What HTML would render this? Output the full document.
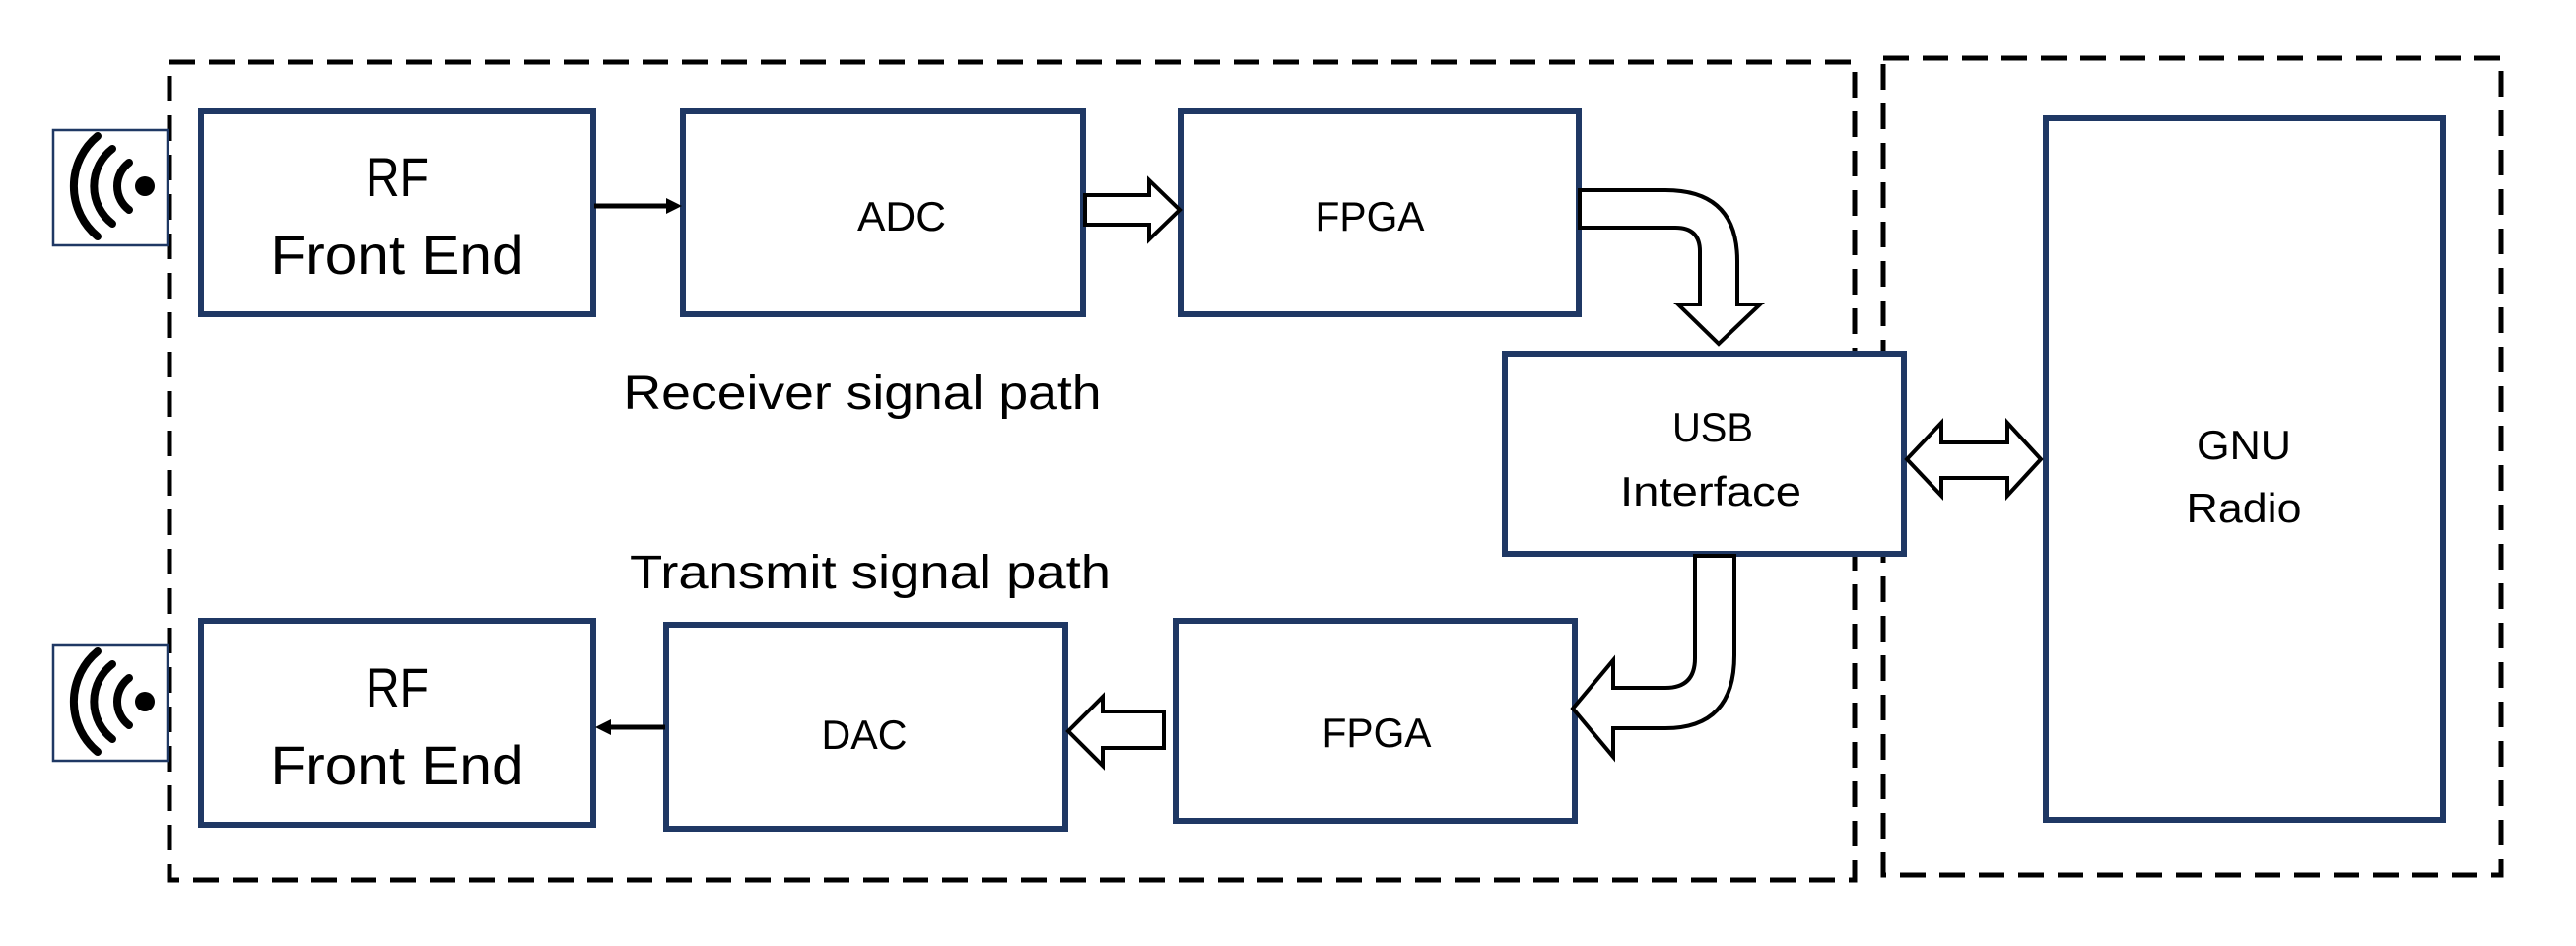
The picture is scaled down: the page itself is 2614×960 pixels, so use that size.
<!DOCTYPE html>
<html><head><meta charset="utf-8"><style>
html,body{margin:0;padding:0;background:#fff;}
svg{display:block}
text{font-family:"Liberation Sans Narrow","Liberation Sans",sans-serif;fill:#000}
</style></head><body>
<svg width="2614" height="960" viewBox="0 0 2614 960" xmlns="http://www.w3.org/2000/svg">
<defs>
<g id="ant">
<rect x="0" y="0" width="116" height="117" fill="#fff" stroke="#1f3864" stroke-width="2.5"/>
<circle cx="93" cy="57" r="10" fill="#000"/>
<path d="M77 33 A30 30 0 0 0 77 81" fill="none" stroke="#000" stroke-width="8" stroke-linecap="round"/>
<path d="M60 19 A48 48 0 0 0 60 95" fill="none" stroke="#000" stroke-width="8" stroke-linecap="round"/>
<path d="M45 6 A66 66 0 0 0 45 108" fill="none" stroke="#000" stroke-width="8" stroke-linecap="round"/>
</g>
</defs>
<g fill="none" stroke="#000" stroke-width="5" stroke-dasharray="26 14">
<rect x="172" y="63" width="1710" height="830"/>
<rect x="1911" y="59" width="627" height="829"/>
</g>
<use href="#ant" x="54" y="132"/>
<use href="#ant" x="54" y="655"/>
<g fill="#fff" stroke="#1f3864" stroke-width="6">
<rect x="204" y="113" width="398" height="206"/>
<rect x="693" y="113" width="406" height="206"/>
<rect x="1198" y="113" width="404" height="206"/>
<rect x="1527" y="359" width="405" height="203"/>
<rect x="2076" y="120" width="403" height="712"/>
<rect x="204" y="630" width="398" height="207"/>
<rect x="676" y="634" width="405" height="207"/>
<rect x="1193" y="630" width="405" height="203"/>
</g>
<line x1="603" y1="209" x2="680" y2="209" stroke="#000" stroke-width="5"/>
<polygon points="692,209 676,201 676,217" fill="#000"/>
<line x1="675" y1="738" x2="616" y2="738" stroke="#000" stroke-width="5"/>
<polygon points="604,738 620,730 620,746" fill="#000"/>
<g fill="#fff" stroke="#000" stroke-width="4" stroke-linejoin="miter">
<polygon points="1101,198 1166,198 1166,183 1197,213 1166,243 1166,228 1101,228"/>
<polygon points="1181,722 1119,722 1119,707 1084,742 1119,777 1119,759 1181,759"/>
<path d="M1603,193 L1690,193 Q1763,193 1763,265 L1763,309 L1786,309 L1744,349 L1703,309 L1725,309 L1725,255 Q1725,231 1700,231 L1603,231 Z"/>
<path d="M1720,564 L1760,564 L1760,665 Q1760,739 1690,739 L1637,739 L1637,768 L1596,719 L1637,670 L1637,698 L1690,698 Q1720,698 1720,668 Z"/>
<polygon points="1935,466 1970,429 1970,449 2037,449 2037,429 2071,466 2037,503 2037,485 1970,485 1970,503"/>
</g>
<g text-anchor="middle" lengthAdjust="spacingAndGlyphs">
<text x="403" y="199" font-size="56" textLength="64" lengthAdjust="spacingAndGlyphs">RF</text>
<text x="403" y="278" font-size="56" textLength="257" lengthAdjust="spacingAndGlyphs">Front End</text>
<text x="403" y="717" font-size="56" textLength="64" lengthAdjust="spacingAndGlyphs">RF</text>
<text x="403" y="796" font-size="56" textLength="257" lengthAdjust="spacingAndGlyphs">Front End</text>
<text x="915" y="234" font-size="42" textLength="90" lengthAdjust="spacingAndGlyphs">ADC</text>
<text x="1390" y="234" font-size="42" textLength="111" lengthAdjust="spacingAndGlyphs">FPGA</text>
<text x="877" y="760" font-size="42" textLength="87" lengthAdjust="spacingAndGlyphs">DAC</text>
<text x="1397" y="758" font-size="42" textLength="111" lengthAdjust="spacingAndGlyphs">FPGA</text>
<text x="1738" y="448" font-size="42" textLength="82" lengthAdjust="spacingAndGlyphs">USB</text>
<text x="1736" y="513" font-size="42" textLength="184" lengthAdjust="spacingAndGlyphs">Interface</text>
<text x="2277" y="466" font-size="42" textLength="96" lengthAdjust="spacingAndGlyphs">GNU</text>
<text x="2277" y="530" font-size="42" textLength="117" lengthAdjust="spacingAndGlyphs">Radio</text>
<text x="875" y="415" font-size="48" textLength="485" lengthAdjust="spacingAndGlyphs">Receiver signal path</text>
<text x="883" y="597" font-size="48" textLength="488" lengthAdjust="spacingAndGlyphs">Transmit signal path</text>
</g>
</svg>
</body></html>
